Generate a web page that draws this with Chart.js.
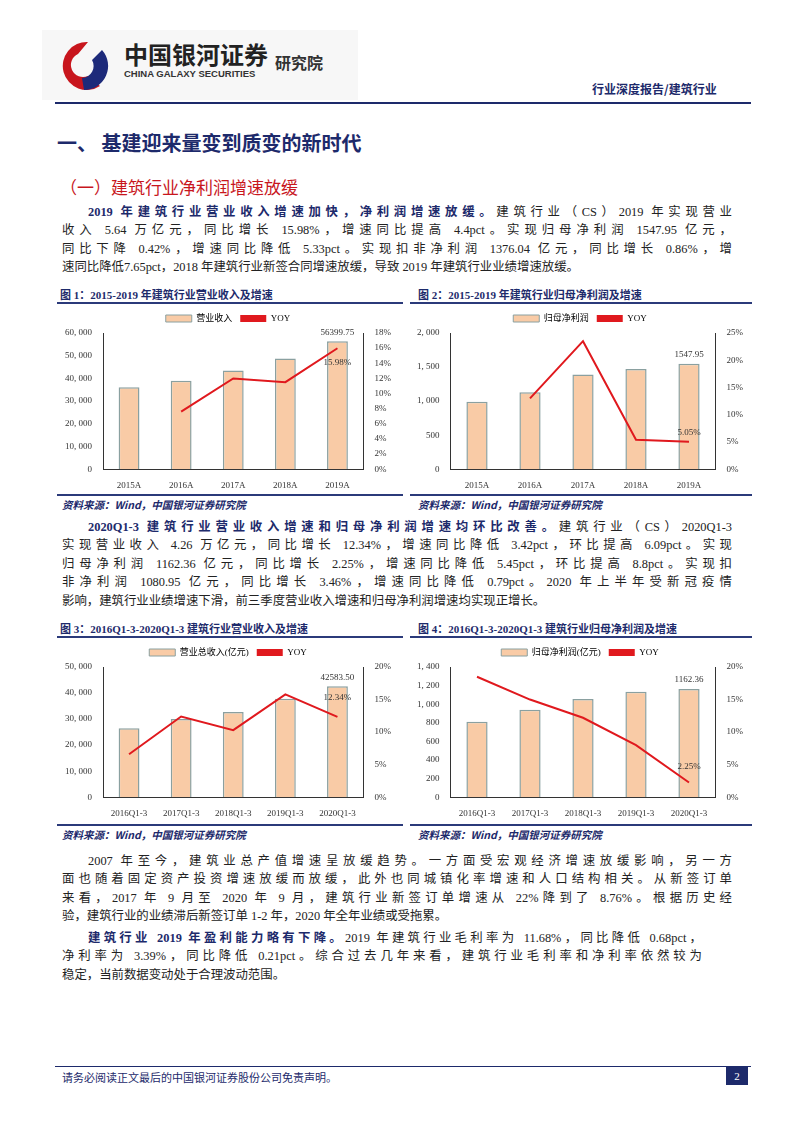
<!DOCTYPE html>
<html><head><meta charset="utf-8">
<script src="https://cdn.jsdelivr.net/npm/chart.js@4"></script>
<style>
body{margin:0;width:800px;height:1132px;position:relative;background:#fff;font-family:"Liberation Serif","Noto Sans CJK SC",serif;color:#222}
.a{position:absolute}
.p{position:absolute;left:62px;width:670px;font-size:12.4px;line-height:18.4px;font-family:"Liberation Serif","Noto Sans CJK SC",serif;white-space:nowrap}
.p div{text-align:justify;text-align-last:justify}
.p div.l{text-align-last:left}
.p div.f{padding-left:26px}
.p b{color:#1d2a6b}
.ft{position:absolute;font-size:11px;font-weight:bold;color:#1d2a6b;font-family:"Liberation Serif","Noto Sans CJK SC"}
.ln{position:absolute;height:2px;background:#2b3a7a}
.src{position:absolute;font-size:10.5px;font-style:italic;font-weight:bold;color:#1d2a6b;font-family:"Noto Sans CJK SC"}
.c{position:absolute;width:340px}
</style></head><body>
<div class="a" style="left:42px;top:30px;width:316px;height:70px;background:#f7f7f7"></div>
<svg class="a" style="left:58px;top:38px" width="56" height="56" viewBox="0 0 56 56"><path d="M30 4 A24 24 0 1 0 42 48 L30 38 A12 12 0 0 1 20 16 Z" fill="#c8161d"/><path d="M26 52 A24 24 0 0 0 44 12 L34 22 A12 12 0 0 1 24 40 Z" fill="#1d2a7a"/></svg>
<div class="a" style="left:124px;top:36px;font-size:24px;font-weight:bold;color:#222;font-family:'Noto Sans CJK SC'">中国银河证券</div>
<div class="a" style="left:124px;top:68px;font-size:9.5px;font-weight:bold;color:#333;font-family:'Liberation Sans'">CHINA GALAXY SECURITIES</div>
<div class="a" style="left:275px;top:50px;font-size:16px;font-weight:bold;color:#333;font-family:'Noto Sans CJK SC'">研究院</div>
<div class="a" style="left:592px;top:80px;font-size:12px;font-weight:bold;color:#1d2a6b;font-family:'Noto Sans CJK SC'">行业深度报告/建筑行业</div>
<div class="a" style="left:55px;top:102px;width:696px;height:2px;background:#1d2a6b"></div>
<div class="a" style="left:57px;top:128px;font-size:20px;font-weight:bold;color:#1d2a6b;font-family:'Noto Sans CJK SC'">一、 基建迎来量变到质变的新时代</div>
<div class="a" style="left:60px;top:174px;font-size:17px;color:#c8161d;font-family:'Noto Sans CJK SC'">（一）建筑行业净利润增速放缓</div>
<div class="p" style="top:203px">
<div class="f"><b>2019 年建筑行业营业收入增速加快，净利润增速放缓。</b>建筑行业（CS）2019 年实现营业</div>
<div>收入 5.64 万亿元，同比增长 15.98%，增速同比提高 4.4pct。实现归母净利润 1547.95 亿元，</div>
<div>同比下降 0.42%，增速同比降低 5.33pct。实现扣非净利润 1376.04 亿元，同比增长 0.86%，增</div>
<div class="l">速同比降低7.65pct，2018 年建筑行业新签合同增速放缓，导致 2019 年建筑行业业绩增速放缓。</div>
</div>
<div class="ft" style="left:60px;top:286px">图 1：2015-2019 年建筑行业营业收入及增速</div>
<div class="ft" style="left:418px;top:286px">图 2：2015-2019 年建筑行业归母净利润及增速</div>
<div class="ln" style="left:57px;top:302px;width:346px"></div><div class="ln" style="left:410px;top:302px;width:342px"></div>
<div class="c" style="left:58px;top:306px;height:188px"><canvas id="c1"></canvas></div>
<div class="c" style="left:410px;top:306px;height:188px"><canvas id="c2"></canvas></div>
<div class="ln" style="left:57px;top:494px;width:346px"></div><div class="ln" style="left:410px;top:494px;width:342px"></div>
<div class="src" style="left:62px;top:497px">资料来源：Wind，中国银河证券研究院</div>
<div class="src" style="left:418px;top:497px">资料来源：Wind，中国银河证券研究院</div>
<div class="p" style="top:518px">
<div class="f"><b>2020Q1-3 建筑行业营业收入增速和归母净利润增速均环比改善。</b>建筑行业（CS）2020Q1-3</div>
<div>实现营业收入 4.26 万亿元，同比增长 12.34%，增速同比降低 3.42pct，环比提高 6.09pct。实现</div>
<div>归母净利润 1162.36 亿元，同比增长 2.25%，增速同比降低 5.45pct，环比提高 8.8pct。实现扣</div>
<div>非净利润 1080.95 亿元，同比增长 3.46%，增速同比降低 0.79pct。2020 年上半年受新冠疫情</div>
<div class="l">影响，建筑行业业绩增速下滑，前三季度营业收入增速和归母净利润增速均实现正增长。</div>
</div>
<div class="ft" style="left:60px;top:620px">图 3：2016Q1-3-2020Q1-3 建筑行业营业收入及增速</div>
<div class="ft" style="left:418px;top:620px">图 4：2016Q1-3-2020Q1-3 建筑行业归母净利润及增速</div>
<div class="ln" style="left:57px;top:636px;width:346px"></div><div class="ln" style="left:410px;top:636px;width:342px"></div>
<div class="c" style="left:58px;top:640px;height:182px"><canvas id="c3"></canvas></div>
<div class="c" style="left:410px;top:640px;height:182px"><canvas id="c4"></canvas></div>
<div class="ln" style="left:57px;top:824px;width:346px"></div><div class="ln" style="left:410px;top:824px;width:342px"></div>
<div class="src" style="left:62px;top:827px">资料来源：Wind，中国银河证券研究院</div>
<div class="src" style="left:418px;top:827px">资料来源：Wind，中国银河证券研究院</div>
<div class="p" style="top:852px">
<div class="f">2007 年至今，建筑业总产值增速呈放缓趋势。一方面受宏观经济增速放缓影响，另一方</div>
<div>面也随着固定资产投资增速放缓而放缓，此外也同城镇化率增速和人口结构相关。从新签订单</div>
<div>来看，2017 年 9 月至 2020 年 9 月，建筑行业新签订单增速从 22%降到了 8.76%。根据历史经</div>
<div class="l">验，建筑行业的业绩滞后新签订单 1-2 年，2020 年全年业绩或受拖累。</div>
</div>
<div class="p" style="top:929px;width:640px">
<div class="f"><b>建筑行业 2019 年盈利能力略有下降。</b>2019 年建筑行业毛利率为 11.68%，同比降低 0.68pct，</div>
<div>净利率为 3.39%，同比降低 0.21pct。综合过去几年来看，建筑行业毛利率和净利率依然较为</div>
<div class="l">稳定，当前数据变动处于合理波动范围。</div>
</div>
<div class="a" style="left:55px;top:1066px;width:696px;height:1px;background:#1d2a6b"></div>
<div class="a" style="left:62px;top:1069px;font-size:11px;color:#1d2a6b;font-family:'Noto Sans CJK SC'">请务必阅读正文最后的中国银河证券股份公司免责声明。</div>
<div class="a" style="left:726px;top:1067px;width:22px;height:18px;background:#1d2a6b;color:#fff;font-size:11px;text-align:center;line-height:18px">2</div>
<script>
const years=['2015A','2016A','2017A','2018A','2019A'];
const quarters=['2016Q1-3','2017Q1-3','2018Q1-3','2019Q1-3','2020Q1-3'];
const rev1=[36100,39000,43500,48800,56399.75];
const yoy1=[null,7.6,12.0,11.5,15.98];
const np2=[990,1130,1390,1470,1547.95];
const yoy2=[null,13.0,23.5,5.4,5.05];
const rev3=[26500,30000,32700,37800,42583.50];
const yoy3=[6.6,12.4,10.3,15.8,12.34];
const np4=[810,940,1055,1135,1162.36];
const yoy4=[18.5,15.0,12.2,8.0,2.25];
const F={family:"'Liberation Serif','Noto Sans CJK SC'",size:9};
const labelPlugin={id:'lbl',afterDatasetsDraw(ch){const o=ch.options.plugins.lbl;const ctx=ch.ctx;ctx.save();ctx.font="9px 'Liberation Serif'";ctx.fillStyle='#333';ctx.textAlign='center';
 const b=ch.getDatasetMeta(1).data[4];ctx.fillText(o.bar,b.x,b.y-9);
 const l=ch.getDatasetMeta(0).data[4];ctx.fillText(o.line,l.x,l.y+o.dy);ctx.restore();}};
function mk(id,labels,bars,line,barName,ymax,ystep,rmax,rstep,lb,ll,dy){
 new Chart(document.getElementById(id),{type:'bar',plugins:[labelPlugin],
 data:{labels,datasets:[
  {type:'line',label:'YOY',data:line,yAxisID:'y1',borderColor:'#e0191e',backgroundColor:'#e0191e',borderWidth:2,pointRadius:0,tension:0,order:0},
  {type:'bar',label:barName,data:bars,yAxisID:'y',backgroundColor:'#f9cba6',borderColor:'#8aa0a0',borderWidth:{top:1.5,left:1.5,right:1.5,bottom:0},barPercentage:0.4,categoryPercentage:1,order:1}]},
 options:{animation:false,responsive:true,maintainAspectRatio:false,layout:{padding:{left:4,right:4,top:0}},
  plugins:{lbl:{bar:lb,line:ll,dy:dy},tooltip:{enabled:false},
   legend:{reverse:true,labels:{font:F,color:'#333',boxWidth:26,boxHeight:7,padding:8,
    generateLabels(ch){return ch.data.datasets.map((d,i)=>({text:d.label,fillStyle:d.type==='bar'?'#f9cba6':'#e0191e',strokeStyle:d.type==='bar'?'#8aa0a0':'#e0191e',lineWidth:d.type==='bar'?1:0,datasetIndex:i}));}}}},
  scales:{x:{grid:{display:false},border:{color:'#333'},ticks:{font:F,color:'#333'}},
   y:{min:0,max:ymax,ticks:{stepSize:ystep,font:F,color:'#333',callback:v=>v.toLocaleString('en-US').replace(/,/g,', ')},grid:{display:false},border:{color:'#333'}},
   y1:{position:'right',min:0,max:rmax,ticks:{stepSize:rstep,font:F,color:'#333',callback:v=>v+'%'},grid:{display:false},border:{color:'#333'}}}}});
}
mk('c1',years,rev1,yoy1,'营业收入',60000,10000,18,2,'56399.75','15.98%',14);
mk('c2',years,np2,yoy2,'归母净利润',2000,500,25,5,'1547.95','5.05%',-9);
mk('c3',quarters,rev3,yoy3,'营业总收入(亿元)',50000,10000,20,5,'42583.50','12.34%',-19);
mk('c4',quarters,np4,yoy4,'归母净利润(亿元)',1400,200,20,5,'1162.36','2.25%',-16);
</script>
</body></html>
